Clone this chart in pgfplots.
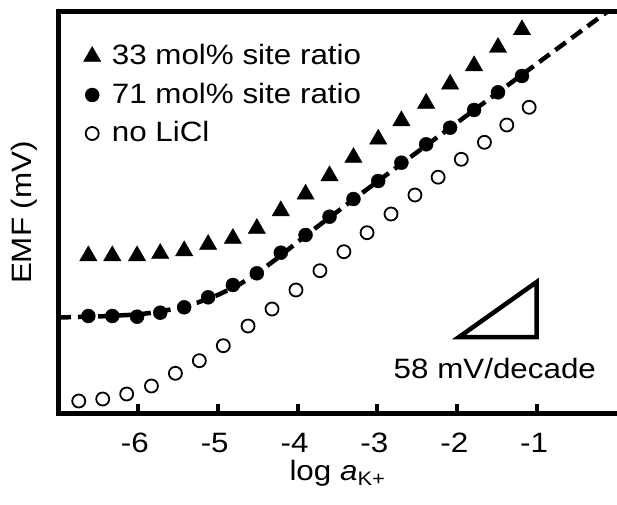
\documentclass[border=0pt]{standalone}
\usepackage{fontspec}
\setmainfont{Liberation Sans}[FakeStretch=1.12]
\usepackage{pgfplots}
\pgfplotsset{compat=1.18}

\begin{document}
\fontsize{28}{34}\selectfont
\begin{tikzpicture}
\begin{axis}[
  scale only axis, width=559pt, height=401pt,
  xmin=-7, xmax=0, ymin=0, ymax=401,
  axis x line*=box, axis y line*=left,
  axis line style={line width=5pt, line cap=rect},
  xtick={-6,-5,-4,-3,-2,-1},
  xticklabels={-6,-5,-4,-3,-2,-1},
  xtick pos=left, tick align=inside,
  major tick length=9pt,
  major tick style={line width=4pt, black},
  ytick=\empty,
  xticklabel style={anchor=base, yshift=-39pt, xshift=-3pt, inner sep=0pt},
  xlabel={log \textit{a}\textsubscript{K+}},
  xlabel style={at={(axis description cs:0.5,-0.168)}, anchor=base, inner sep=0pt},
  ylabel={EMF (mV)},
  ylabel style={at={(axis description cs:-0.061,0.5)}, anchor=center},
  legend style={at={(rel axis cs:0.04,0.93)}, anchor=north west,
    draw=none, fill=none, row sep=10pt,
    /tikz/every odd column/.append style={column sep=9pt}},
  legend cell align=left,
]
% fit line for 71 mol%
\addplot[black, line width=4.5pt, dash pattern=on 13pt off 7pt, forget plot] coordinates {
  (-7,95.5) (-6.5,96.5) (-6,98.5) (-5.75,101) (-5.5,105) (-5.25,110.5)
  (-5,118) (-4.75,127.5) (-4.5,140) (-4.25,155) (-4,171) (-3.75,186.5)
  (-3.5,201.5) (-3.25,216.5) (-3,231.5) (-2,290.5) (-1,349.5) (0,408.5)
};
\addplot[only marks, mark=triangle*, mark size=10pt, black] coordinates {
  (-6.62,157.2) (-6.32,157.2) (-6.01,157.2) (-5.72,159.5) (-5.42,162.2)
  (-5.12,168.5) (-4.81,174.5) (-4.51,184.5) (-4.21,202.2) (-3.90,218.8)
  (-3.60,237.2) (-3.30,255.5) (-2.99,273.8) (-2.70,292.2) (-2.39,309.7)
  (-2.09,328.8) (-1.79,347.2) (-1.49,365.5) (-1.19,383.2)
};
\addlegendentry{33 mol\% site ratio}
\addplot[only marks, mark=*, mark size=7pt, black] coordinates {
  (-6.62,97) (-6.32,97) (-6.01,96.3) (-5.72,100.3) (-5.42,105.7)
  (-5.12,115.7) (-4.81,128) (-4.51,139.7) (-4.21,160.3) (-3.90,178)
  (-3.60,196.3) (-3.30,214) (-2.99,232) (-2.70,250.3) (-2.39,268.7)
  (-2.09,285.3) (-1.79,303) (-1.49,320.7) (-1.19,337)
};
\addlegendentry{71 mol\% site ratio}
\addplot[only marks, mark=o, mark size=6.5pt, black, line width=1.8pt,
  mark options={fill=white}] coordinates {
  (-6.74,12) (-6.44,14) (-6.14,19) (-5.83,27) (-5.53,39.7)
  (-5.23,52.3) (-4.93,67.3) (-4.62,87) (-4.32,104) (-4.02,123)
  (-3.72,142.3) (-3.42,161.3) (-3.13,180.3) (-2.83,199) (-2.53,218)
  (-2.24,235.8) (-1.95,253.7) (-1.66,270.7) (-1.38,288) (-1.10,305.7)
};
\addlegendentry{no LiCl}
\draw[line width=4.5pt, line join=miter]
  (axis cs:-1.978,76) -- (axis cs:-1.006,76) -- (axis cs:-1.006,131) -- cycle;
\node at (axis cs:-1.53,45) {58 mV/decade};
\coordinate (bl) at (rel axis cs:0,0);
\coordinate (tr) at (rel axis cs:1,1);
\end{axis}
\pgfresetboundingbox
\path ([xshift=-58pt,yshift=-91pt]bl) rectangle ([yshift=12pt]tr);
\end{tikzpicture}
\end{document}
